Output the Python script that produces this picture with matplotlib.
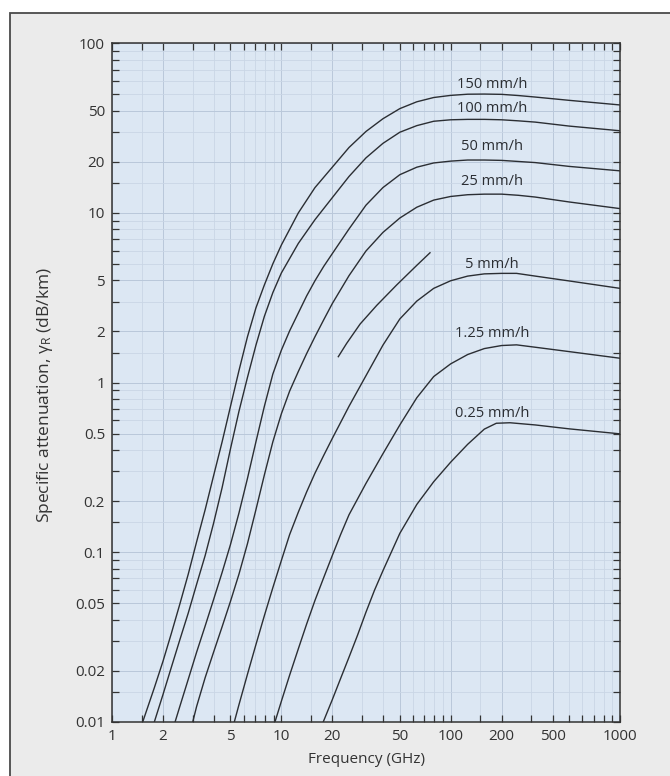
import matplotlib
matplotlib.use("Agg")
import matplotlib.pyplot as plt
from matplotlib.patches import Rectangle
from matplotlib.ticker import FixedLocator, NullFormatter

plt.rcParams['font.family'] = ['Open Sans', 'DejaVu Sans']

# rain rates and curves: frequency (GHz), attenuation (dB/km)
rates = ["150 mm/h", "100 mm/h", "50 mm/h", "25 mm/h", "5 mm/h", "1.25 mm/h", "0.25 mm/h"]

f_150 = [1.52, 1.78, 2.0, 2.24, 2.51, 2.82, 3.16, 3.55, 3.98, 4.47, 5.01, 5.62, 6.31, 7.08, 7.94, 8.91, 10,
         12.6, 15.8, 20, 25.1, 31.6, 39.8, 50.1, 63.1, 79.4, 100, 126, 158, 200, 251, 316, 501, 1000]
a_150 = [0.01, 0.0159, 0.0227, 0.0331, 0.049, 0.0741, 0.115, 0.178, 0.282, 0.447, 0.724, 1.175, 1.862, 2.754,
         3.76, 5.01, 6.46, 10.0, 14.1, 18.6, 24.3, 30.2, 35.9, 41.2, 45.2, 47.9, 49.3, 50.1, 50.2, 50.0, 49.2,
         48.2, 46.1, 43.3]

f_100 = [1.78, 2.0, 2.24, 2.51, 2.82, 3.16, 3.55, 3.98, 4.47, 5.01, 5.62, 6.31, 7.08, 7.94, 8.91, 10,
         12.6, 15.8, 20, 25.1, 31.6, 39.8, 50.1, 63.1, 79.4, 100, 126, 158, 200, 251, 316, 501, 1000]
a_100 = [0.01, 0.01445, 0.0209, 0.0302, 0.0437, 0.0646, 0.0955, 0.148, 0.24, 0.407, 0.676, 1.072, 1.66, 2.455,
         3.388, 4.42, 6.61, 9.12, 12.3, 16.4, 21.1, 25.7, 29.9, 32.7, 34.7, 35.4, 35.6, 35.6, 35.4, 34.9, 34.3,
         32.5, 30.5]

f_50 = [2.36, 2.51, 2.82, 3.16, 3.55, 3.98, 4.47, 5.01, 5.62, 6.31, 7.08, 7.94, 8.91, 10, 11.2, 12.6, 14.1,
        15.8, 17.8, 20, 25.1, 31.6, 39.8, 50.1, 63.1, 79.4, 100, 126, 158, 200, 251, 316, 501, 1000]
a_50 = [0.01, 0.01222, 0.01778, 0.0257, 0.0367, 0.0525, 0.0759, 0.111, 0.17, 0.272, 0.447, 0.724, 1.122,
        1.549, 2.018, 2.57, 3.236, 3.981, 4.84, 5.754, 8.04, 11.1, 14.1, 16.8, 18.6, 19.7, 20.2, 20.5, 20.5,
        20.4, 20.1, 19.8, 18.8, 17.7]

f_25 = [3.0, 3.16, 3.55, 3.98, 4.47, 5.01, 5.62, 6.31, 7.08, 7.94, 8.91, 10, 11.2, 12.6, 14.1, 15.8, 17.8,
        20, 25.1, 31.6, 39.8, 50.1, 63.1, 79.4, 100, 126, 158, 200, 251, 316, 501, 1000]
a_25 = [0.01, 0.0123, 0.0182, 0.0257, 0.0363, 0.0513, 0.0741, 0.1122, 0.178, 0.285, 0.447, 0.653, 0.891,
        1.161, 1.479, 1.862, 2.344, 2.92, 4.266, 5.96, 7.67, 9.33, 10.8, 11.9, 12.5, 12.8, 12.9, 12.9, 12.7,
        12.4, 11.6, 10.6]

f_5 = [5.28, 5.62, 6.31, 7.08, 7.94, 8.91, 10, 11.2, 12.6, 14.1, 15.8, 17.8, 20, 25.1, 31.6, 39.8, 50.1,
       63.1, 79.4, 100, 126, 158, 200, 245, 316, 501, 1000]
a_5 = [0.01, 0.01259, 0.01905, 0.0285, 0.0422, 0.0617, 0.0891, 0.127, 0.172, 0.226, 0.292, 0.372, 0.468,
       0.724, 1.096, 1.66, 2.37, 3.02, 3.59, 3.98, 4.24, 4.37, 4.4, 4.4, 4.24, 3.97, 3.59]

f_125 = [9.18, 10, 11.2, 12.6, 14.1, 15.8, 17.8, 20, 22.4, 25.1, 31.6, 39.8, 50.1, 63.1, 79.4, 100, 126,
         158, 200, 245, 316, 501, 1000]
a_125 = [0.01, 0.01318, 0.01884, 0.0269, 0.0376, 0.0519, 0.0708, 0.0955, 0.127, 0.166, 0.254, 0.38, 0.562,
         0.813, 1.084, 1.288, 1.462, 1.585, 1.652, 1.667, 1.614, 1.521, 1.39]

f_025 = [17.7, 20, 22.4, 25.1, 28.2, 31.6, 35.5, 39.8, 50.1, 63.1, 79.4, 100, 126, 158, 186, 224, 316, 501, 1000]
a_025 = [0.01, 0.01349, 0.018, 0.024, 0.0324, 0.0442, 0.0596, 0.0776, 0.129, 0.191, 0.26, 0.339, 0.432,
         0.531, 0.575, 0.579, 0.562, 0.533, 0.498]

# short unlabelled segment
f_short = [21.7, 24.3, 29.2, 36.6, 48, 63, 75.5]
a_short = [1.42, 1.70, 2.213, 2.85, 3.76, 4.9, 5.82]

# label anchor heights (dB/km) at ~175 GHz
label_y = [57.5, 41.4, 24.5, 15.3, 4.93, 1.95, 0.658]
label_x = 175

xtick_pos = [1, 2, 5, 10, 20, 50, 100, 200, 400, 1000]
xtick_lab = ["1", "2", "5", "10", "20", "50", "100", "200", "500", "1000"]
ytick_pos = [0.01, 0.02, 0.05, 0.1, 0.2, 0.5, 1, 2, 4, 10, 20, 40, 100]
ytick_lab = ["0.01", "0.02", "0.05", "0.1", "0.2", "0.5", "1", "2", "5", "10", "20", "50", "100"]

curves = [(f_150, a_150), (f_100, a_100), (f_50, a_50), (f_25, a_25),
          (f_5, a_5), (f_125, a_125), (f_025, a_025), (f_short, a_short)]

fig = plt.figure(figsize=(6.7, 7.76), dpi=100, facecolor="white")
fig.patches.append(Rectangle((10 / 670, -0.1), 1.2, 1.1 - 13 / 776,
                             transform=fig.transFigure, facecolor="#ebebeb",
                             edgecolor="#4a4a4a", lw=1.3, zorder=-10))

ax = fig.add_axes([112 / 670, 1 - 721.7 / 776, 508 / 670, 678.4 / 776])
ax.set_zorder(1)
ax.set_facecolor("#dce7f3")
ax.set_xscale("log")
ax.set_yscale("log")
ax.set_xlim(1, 1000)
ax.set_ylim(0.01, 100)

line_col = "#2b2e33"
for f, a in curves:
    ax.plot(f, a, color=line_col, lw=1.0, solid_joinstyle="round")

for lab, yy in zip(rates, label_y):
    ax.text(label_x, yy, lab, ha="center", va="center", fontsize=10.5, color="#2b2e33")

# ticks
xminor = [m * d for d in [1, 10, 100] for m in [1.5, 2, 3, 4, 5, 6, 7, 8, 9]]
xminor = [v for v in xminor if min(abs(v - p) for p in xtick_pos) > 1e-9]
yminor = [m * d for d in [0.01, 0.1, 1, 10] for m in [1.5, 2, 3, 4, 5, 6, 7, 8, 9]]
yminor = [v for v in yminor if min(abs(v - p) for p in ytick_pos) > 1e-9]

ax.xaxis.set_major_locator(FixedLocator(xtick_pos))
ax.set_xticklabels(xtick_lab)
ax.xaxis.set_minor_locator(FixedLocator(xminor))
ax.xaxis.set_minor_formatter(NullFormatter())
ax.yaxis.set_major_locator(FixedLocator(ytick_pos))
ax.set_yticklabels(ytick_lab)
ax.yaxis.set_minor_locator(FixedLocator(yminor))
ax.yaxis.set_minor_formatter(NullFormatter())

ax.tick_params(which="both", direction="in", top=True, right=True,
               length=5, width=0.9, color="#333333")
ax.tick_params(which="major", labelsize=11, labelcolor="#333333", pad=5)

ax.grid(which="major", color="#b9c8da", lw=0.7)
ax.grid(which="minor", color="#c9d6e5", lw=0.6)
ax.set_axisbelow(True)

for s in ax.spines.values():
    s.set_color("#333333")
    s.set_linewidth(1.1)

ax.set_xlabel("Frequency (GHz)", fontsize=11, color="#333333", labelpad=6)
ax.set_ylabel(r"Specific attenuation, $\mathregular{\gamma_R}$ (dB/km)", fontsize=12.5,
              color="#333333")
ax.yaxis.set_label_coords(-0.112, 0.4816)

fig.savefig("out.png", dpi=100, facecolor=fig.get_facecolor())
